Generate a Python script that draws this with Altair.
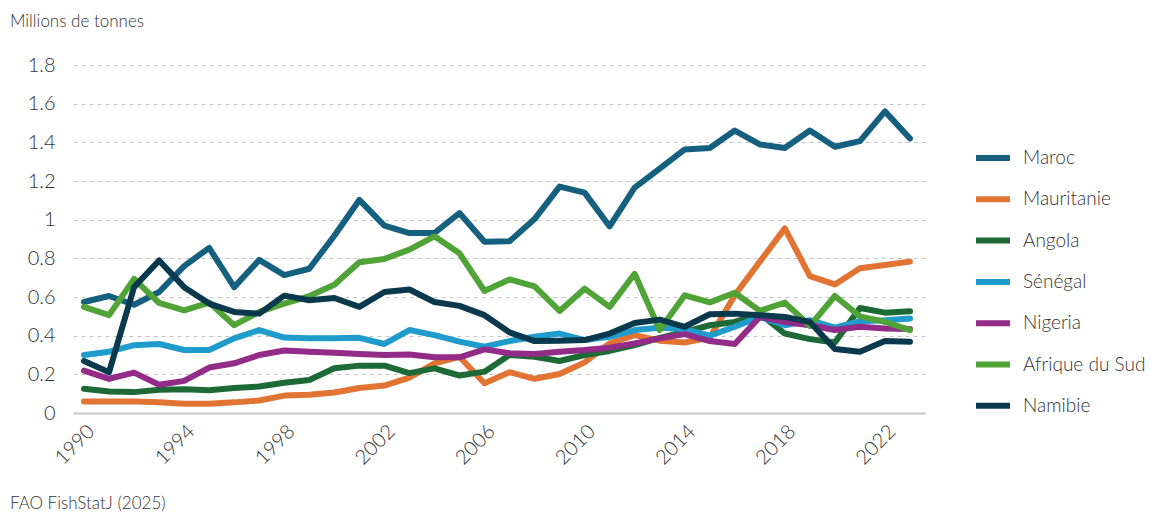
import altair as alt
import pandas as pd

years = list(range(1990, 2024))

maroc = [0.574, 0.605, 0.56, 0.626, 0.76, 0.854, 0.651, 0.792, 0.713, 0.746,
         0.917, 1.102, 0.969, 0.931, 0.931, 1.034, 0.886, 0.888, 1.003, 1.171,
         1.14, 0.965, 1.166, 1.264, 1.363, 1.371, 1.461, 1.389, 1.371, 1.461,
         1.377, 1.406, 1.56, 1.42]
mauritanie = [0.06, 0.06, 0.06, 0.055, 0.048, 0.048, 0.055, 0.065, 0.09, 0.094,
              0.106, 0.129, 0.142, 0.183, 0.257, 0.291, 0.154, 0.211, 0.177, 0.202,
              0.262, 0.36, 0.403, 0.374, 0.365, 0.39, 0.609, 0.783, 0.955, 0.708,
              0.665, 0.749, 0.766, 0.783]
angola = [0.125, 0.111, 0.108, 0.12, 0.123, 0.118, 0.129, 0.137, 0.156, 0.171,
          0.231, 0.245, 0.245, 0.206, 0.231, 0.194, 0.214, 0.30, 0.291, 0.269,
          0.30, 0.321, 0.351, 0.389, 0.42, 0.454, 0.471, 0.514, 0.411, 0.382,
          0.365, 0.543, 0.519, 0.526]
senegal = [0.30, 0.317, 0.351, 0.357, 0.326, 0.326, 0.386, 0.429, 0.39, 0.386,
           0.386, 0.389, 0.357, 0.429, 0.403, 0.369, 0.343, 0.372, 0.394, 0.411,
           0.377, 0.394, 0.429, 0.441, 0.434, 0.40, 0.446, 0.497, 0.454, 0.48,
           0.441, 0.475, 0.48, 0.489]
nigeria = [0.219, 0.177, 0.209, 0.146, 0.166, 0.235, 0.257, 0.30, 0.323, 0.317,
           0.312, 0.305, 0.30, 0.303, 0.288, 0.288, 0.329, 0.309, 0.305, 0.317,
           0.326, 0.338, 0.36, 0.386, 0.408, 0.372, 0.357, 0.497, 0.471, 0.454,
           0.429, 0.446, 0.437, 0.434]
afrique_sud = [0.549, 0.506, 0.694, 0.569, 0.531, 0.571, 0.454, 0.523, 0.566, 0.605,
               0.663, 0.78, 0.797, 0.845, 0.914, 0.826, 0.631, 0.691, 0.655, 0.528,
               0.643, 0.549, 0.72, 0.429, 0.609, 0.572, 0.622, 0.528, 0.571, 0.451,
               0.605, 0.50, 0.471, 0.429]
namibie = [0.269, 0.211, 0.651, 0.789, 0.651, 0.566, 0.523, 0.514, 0.607, 0.583,
           0.595, 0.549, 0.626, 0.639, 0.574, 0.554, 0.506, 0.417, 0.372, 0.374,
           0.377, 0.411, 0.466, 0.483, 0.446, 0.511, 0.514, 0.506, 0.497, 0.471,
           0.331, 0.317, 0.372, 0.369]

countries = ["Maroc", "Mauritanie", "Angola", "Sénégal", "Nigeria", "Afrique du Sud", "Namibie"]
colors = ["#16607f", "#e27433", "#1d6a37", "#1f9bcc", "#932b88", "#50a337", "#0a384d"]
series = [maroc, mauritanie, angola, senegal, nigeria, afrique_sud, namibie]

x_ticks = list(range(1990, 2023, 4))
y_ticks = [0, 0.2, 0.4, 0.6, 0.8, 1.0, 1.2, 1.4, 1.6, 1.8]

rows = []
for c, vals in zip(countries, series):
    for yr, v in zip(years, vals):
        rows.append({"country": c, "year": yr, "value": v})
df = pd.DataFrame(rows)

FONT = "Lato"

lines = alt.Chart(df).mark_line(strokeWidth=6, strokeCap="round", strokeJoin="round").encode(
    x=alt.X("year:Q",
            scale=alt.Scale(domain=[1989.56, 2023.6], nice=False, zero=False),
            axis=alt.Axis(values=x_ticks, format="d", title=None, labelAngle=-45,
                          labelAlign="right", labelBaseline="top", labelPadding=8,
                          labelFontSize=20, labelColor="#333333", labelFont=FONT,
                          labelFontWeight=300, ticks=False, grid=False,
                          domainColor="#c8c8c8", domainWidth=2)),
    y=alt.Y("value:Q",
            scale=alt.Scale(domain=[0, 1.8], nice=False),
            axis=alt.Axis(values=y_ticks, format="~g", title=None, labelFontSize=20,
                          labelColor="#333333", labelFont=FONT, labelFontWeight=300,
                          labelPadding=18, ticks=False, domain=False,
                          grid=True, gridColor="#c4c4c4", gridDash=[4, 4], gridWidth=1)),
    color=alt.Color("country:N",
                    scale=alt.Scale(domain=countries, range=colors),
                    sort=countries,
                    legend=alt.Legend(title=None, orient="none", legendX=900, legendY=73,
                                      symbolType="stroke", symbolSize=1156,
                                      symbolStrokeWidth=6, labelFontSize=19,
                                      labelFont=FONT, labelFontWeight=300,
                                      labelColor="#333333", labelOffset=10,
                                      rowPadding=9.3, padding=0)),
    order=alt.Order("year:Q"),
)

unit_text = alt.Chart(pd.DataFrame({"t": ["Millions de tonnes"]})).mark_text(
    align="left", baseline="alphabetic", fontSize=17, font=FONT, fontWeight=300,
    color="#333333"
).encode(x=alt.value(-63), y=alt.value(-38), text="t:N")

source_text = alt.Chart(pd.DataFrame({"t": ["FAO FishStatJ (2025)"]})).mark_text(
    align="left", baseline="alphabetic", fontSize=17, font=FONT, fontWeight=300,
    color="#333333"
).encode(x=alt.value(-63), y=alt.value(444), text="t:N")

chart = alt.layer(lines, unit_text, source_text).properties(
    width=852, height=348,
    autosize=alt.AutoSizeParams(type="none"),
    padding={"left": 65, "top": 57, "right": 228, "bottom": 100},
).configure(font=FONT).configure_view(stroke=None)

chart.save("out.html", embed_options={"renderer": "svg", "actions": False})
